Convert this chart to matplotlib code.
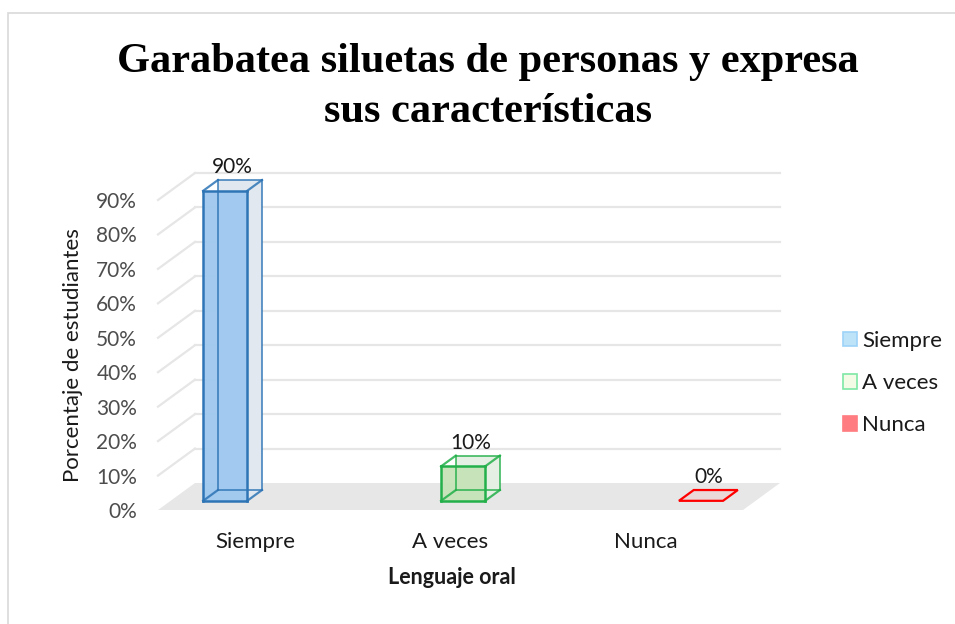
import matplotlib
matplotlib.use('Agg')
import matplotlib.pyplot as plt
from matplotlib.patches import Polygon, Rectangle, Patch

plt.rcParams['font.family'] = 'Lato'
plt.rcParams['font.size'] = 15

# data
categories = ['Siempre', 'A veces', 'Nunca']
values = [90, 10, 0]
value_labels = ['90%', '10%', '0%']
y_ticks = [0, 10, 20, 30, 40, 50, 60, 70, 80, 90]
y_tick_labels = ['0%', '10%', '20%', '30%', '40%', '50%', '60%', '70%', '80%', '90%']

edge_cols = ['#2E75B6', '#23B04A', '#FF0000']
front_cols = ['#9FC8EF', '#C6E3B8', '#EAD7D8']
side_cols = ['#E2E8EF', '#E6EFE4', '#EFE3E4']
legend_face = ['#BDE3F8', '#F3FAE6', '#FF7C80']
legend_edge = ['#9DD3F7', '#7EE8A6', '#FF7C80']

W, H = 955, 624
fig = plt.figure(figsize=(W / 100, H / 100), dpi=100)

# outer chart border
fig.patches.append(Rectangle((8 / W, -0.1), 1.2, 1 - 13 / H + 0.1, transform=fig.transFigure,
                             fill=False, edgecolor='#D9D9D9', linewidth=1.2))

ax = fig.add_axes([158 / W, 1 - 510 / H, (743 - 158) / W, (510 - 200) / H])
ax.set_xlim(-0.5, 2.5)
ax.set_ylim(0, 90)
for s in ax.spines.values():
    s.set_visible(False)

# depth of the 3d box, in data units
Dx, Dy = 37 / 195, 27 / (310 / 90)

# floor
ax.add_patch(Polygon([(-0.5, 0), (2.5, 0), (2.5 + Dx, Dy), (-0.5 + Dx, Dy)],
                     closed=True, facecolor='#E7E7E7', edgecolor='none', zorder=1, clip_on=False))

# gridlines on back wall and left side
for t in y_ticks[1:]:
    ax.plot([-0.5 + Dx, 2.5 + Dx], [t + Dy, t + Dy], color='#E6E6E6', lw=1.6, zorder=0, clip_on=False)
    ax.plot([-0.5, -0.5 + Dx], [t, t + Dy], color='#E6E6E6', lw=1.6, zorder=0, clip_on=False)

# bars
spread = 1.22
w = 0.226
f0, f1 = 0.34, 0.74
for i, v in enumerate(values):
    c = 1 + (i - 1) * spread
    xl, xr = c - w / 2, c + w / 2
    fx, fy = f0 * Dx, f0 * Dy
    bx, by = f1 * Dx, f1 * Dy
    front = [(xl + fx, fy), (xr + fx, fy), (xr + fx, v + fy), (xl + fx, v + fy)]
    back = [(xl + bx, by), (xr + bx, by), (xr + bx, v + by), (xl + bx, v + by)]
    ec = edge_cols[i]
    if v > 0:
        ax.add_patch(Polygon(back, closed=True, facecolor=side_cols[i], edgecolor='none', zorder=2, clip_on=False))
        side = [front[1], back[1], back[2], front[2]]
        ax.add_patch(Polygon(side, closed=True, facecolor=side_cols[i], edgecolor='none', zorder=3, clip_on=False))
        ax.add_patch(Polygon(front, closed=True, facecolor=front_cols[i], edgecolor='none', alpha=0.95,
                             zorder=4, clip_on=False))
        # edges (transparent box: all 12)
        for k in range(4):
            ax.plot([front[k][0], front[(k + 1) % 4][0]], [front[k][1], front[(k + 1) % 4][1]],
                    color=ec, lw=1.8, zorder=5, clip_on=False)
            ax.plot([back[k][0], back[(k + 1) % 4][0]], [back[k][1], back[(k + 1) % 4][1]],
                    color=ec, lw=1.4, alpha=0.75, zorder=5, clip_on=False)
            ax.plot([front[k][0], back[k][0]], [front[k][1], back[k][1]],
                    color=ec, lw=1.6, alpha=0.85, zorder=5, clip_on=False)
    else:
        flat = [front[0], front[1], back[1], back[0]]
        ax.add_patch(Polygon(flat, closed=True, facecolor=front_cols[i], edgecolor=ec, lw=1.6,
                             zorder=4, clip_on=False))
    ax.annotate(value_labels[i], (c + (f0 + f1) / 2 * Dx, v + f1 * Dy), xytext=(0, 2),
                textcoords='offset points', ha='center', va='bottom', fontsize=15, color='#1A1A1A',
                annotation_clip=False)

ax.set_yticks(y_ticks)
ax.set_yticklabels(y_tick_labels, color='#4D4D4D')
ax.set_xticks(range(len(categories)))
ax.set_xticklabels(categories, color='#1A1A1A', fontsize=16)
ax.tick_params(axis='both', length=0)
ax.tick_params(axis='y', pad=15)
ax.tick_params(axis='x', pad=16)

fig.text(73 / W, 1 - 355 / H, 'Porcentaje de estudiantes', rotation=90, ha='center', va='center',
         fontsize=16, color='#1A1A1A')
fig.text(452 / W, 1 - 578 / H, 'Lenguaje oral', ha='center', va='center', fontsize=15.5,
         fontweight='bold', color='#1A1A1A')

fig.text(488 / W, 1 - 87 / H, 'Garabatea siluetas de personas y expresa\nsus características',
         ha='center', va='center', fontsize=30.5, fontweight='bold', family='Liberation Serif',
         linespacing=1.4, color='black')

handles = [Patch(facecolor=legend_face[i], edgecolor=legend_edge[i], lw=1.2) for i in range(3)]
fig.legend(handles, categories, loc='center left', bbox_to_anchor=(823 / W, 1 - 383 / H),
           frameon=False, fontsize=16, labelspacing=1.0, handlelength=0.65, handleheight=0.65,
           handletextpad=0.2, labelcolor='#1A1A1A')

fig.savefig('out.png', dpi=100)
